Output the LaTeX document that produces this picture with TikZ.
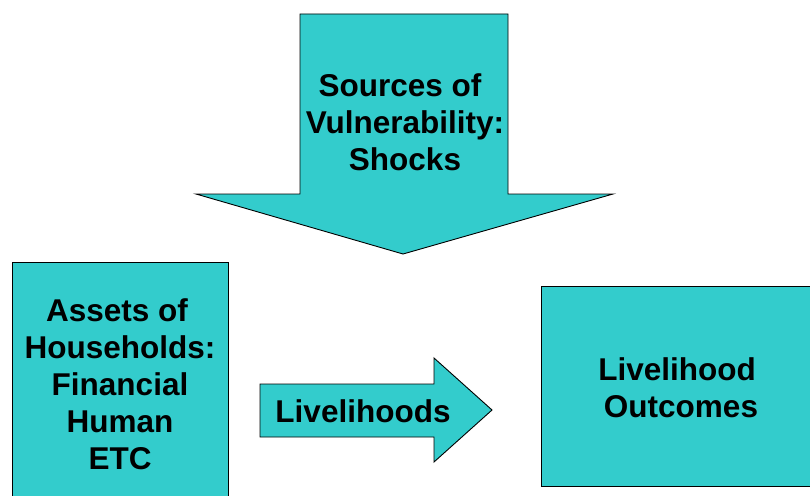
\documentclass[tikz,border=0pt]{standalone}
\usepackage{fontspec}
\setmainfont{Liberation Sans}
\definecolor{turq}{HTML}{33CCCC}
\tikzset{
  shapefill/.style={fill=turq, draw=black, line width=0.9pt, line join=miter},
  lbl/.style={align=center, font=\bfseries\fontsize{31.5}{37}\selectfont, inner sep=0pt}
}
\begin{document}
\begin{tikzpicture}[x=1pt,y=-1pt]
\useasboundingbox (0,0) rectangle (810,495);
\clip (0,0) rectangle (810,495);
% down arrow
\draw[shapefill] (300,14) -- (508,14) -- (508,194) -- (613,194) -- (403,254) -- (196,194) -- (300,194) -- cycle;
% left box
\draw[shapefill] (12,262) rectangle (228,500);
% right arrow
\draw[shapefill] (260,384) -- (434,384) -- (434,358) -- (492,410) -- (434,462) -- (434,437) -- (260,437) -- cycle;
% right box
\draw[shapefill] (541,286) rectangle (816,486);
% labels
\node[lbl] (shocks) at (405,122) {Sources of\hspace*{10pt}\\Vulnerability:\\Shocks};
\node[lbl] (assets) at (120,384) {Assets of\hspace*{6pt}\\Households:\\Financial\\Human\\ETC};
\node[lbl] (liv) at (363,411) {Livelihoods};
\node[lbl] (out) at (677,388) {Livelihood\\\hspace*{8pt}Outcomes};
\end{tikzpicture}
\end{document}
